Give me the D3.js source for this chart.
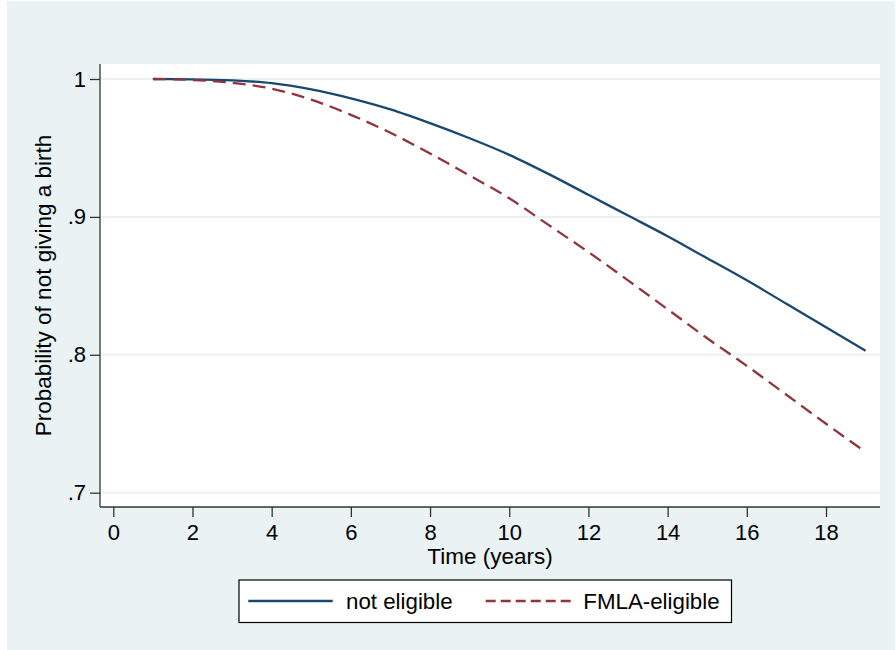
<!DOCTYPE html>
<html>
<head>
<meta charset="utf-8">
<script src="https://cdn.jsdelivr.net/npm/d3@7"></script>
<style>
  html, body { margin: 0; padding: 0; background: #ffffff; }
  svg { display: block; font-family: Arial, "Liberation Sans", Helvetica, sans-serif; }
</style>
</head>
<body>
<svg id="chart" width="896" height="650"></svg>
<script>
// ---- data ----
const years = [1, 2, 3, 4, 5, 6, 7, 8, 9, 10, 11, 12, 13, 14, 15, 16, 17, 18, 19];
const notEligible = [1.000, 0.9998, 0.9990, 0.9970, 0.9925, 0.9860, 0.978, 0.968, 0.957, 0.945,
                     0.931, 0.916, 0.901, 0.886, 0.870, 0.854, 0.837, 0.820, 0.803];
const fmlaEligible = [1.000, 0.9993, 0.9972, 0.9930, 0.985, 0.974, 0.961, 0.946, 0.930, 0.9135,
                      0.894, 0.8745, 0.854, 0.833, 0.812, 0.792, 0.771, 0.750, 0.7295];
const xTicks = [0, 2, 4, 6, 8, 10, 12, 14, 16, 18];
const yTicks = [0.7, 0.8, 0.9, 1];
const yTickLabels = [".7", ".8", ".9", "1"];
const seriesNames = ["not eligible", "FMLA-eligible"];
const xTitle = "Time (years)";
const yTitle = "Probability of not giving a birth";

// ---- layout ----
const svg = d3.select("#chart");
const plotL = 100, plotR = 880, plotT = 64, plotB = 507;
const blue = "#1a476f", red = "#90353b", bg = "#eaf2f3";

svg.append("rect").attr("x", 7).attr("y", 1).attr("width", 888).attr("height", 649).attr("fill", bg);
svg.append("rect").attr("x", plotL).attr("y", plotT).attr("width", plotR - plotL).attr("height", plotB - plotT).attr("fill", "#fff");

const x = d3.scaleLinear().domain([0, 18]).range([113.3, 826]);
const y = d3.scaleLinear().domain([0.7, 1]).range([492.7, 79]);

// gridlines
svg.append("g").selectAll("line").data(yTicks).join("line")
  .attr("x1", plotL).attr("x2", plotR)
  .attr("y1", d => y(d)).attr("y2", d => y(d))
  .attr("stroke", bg).attr("stroke-width", 2);

// lines
const line = d3.line().x(d => x(d[0])).y(d => y(d[1])).curve(d3.curveMonotoneX);
svg.append("path").datum(years.map((t, i) => [t, notEligible[i]]))
  .attr("d", line).attr("fill", "none").attr("stroke", blue).attr("stroke-width", 2.3);
svg.append("path").datum(years.map((t, i) => [t, fmlaEligible[i]]))
  .attr("d", line).attr("fill", "none").attr("stroke", red).attr("stroke-width", 2.3)
  .attr("stroke-dasharray", "13,7");

// y axis
const yAxis = svg.append("g").attr("transform", `translate(${plotL},0)`)
  .call(d3.axisLeft(y).tickValues(yTicks).tickSize(10).tickPadding(4)
    .tickFormat((d, i) => yTickLabels[i]));
yAxis.select(".domain").attr("d", `M0,${plotT}V${plotB}`).attr("stroke", "#333").attr("stroke-width", 1.3);
yAxis.selectAll(".tick line").attr("stroke", "#333").attr("stroke-width", 1.3);
yAxis.selectAll(".tick text").attr("font-size", 22).attr("fill", "#000")
  .attr("font-family", "Arial, 'Liberation Sans', sans-serif");

// x axis
const xAxis = svg.append("g").attr("transform", `translate(0,${plotB})`)
  .call(d3.axisBottom(x).tickValues(xTicks).tickSize(10).tickPadding(7)
    .tickFormat(d3.format("d")));
xAxis.select(".domain").attr("d", `M${plotL},0H${plotR}`).attr("stroke", "#333").attr("stroke-width", 1.3);
xAxis.selectAll(".tick line").attr("stroke", "#333").attr("stroke-width", 1.3);
xAxis.selectAll(".tick text").attr("font-size", 22).attr("fill", "#000")
  .attr("font-family", "Arial, 'Liberation Sans', sans-serif");

// axis titles
svg.append("text").attr("x", (plotL + plotR) / 2).attr("y", 563.5)
  .attr("text-anchor", "middle").attr("font-size", 22.5).attr("fill", "#000").text(xTitle);
svg.append("text").attr("transform", `translate(51,${(plotT + plotB) / 2}) rotate(-90)`)
  .attr("text-anchor", "middle").attr("font-size", 22.5).attr("fill", "#000").text(yTitle);

// legend
const lg = svg.append("g");
lg.append("rect").attr("x", 239).attr("y", 580).attr("width", 492.5).attr("height", 42.5)
  .attr("fill", "#fff").attr("stroke", "#000").attr("stroke-width", 1.2);
lg.append("line").attr("x1", 248.3).attr("x2", 332.7).attr("y1", 601).attr("y2", 601)
  .attr("stroke", blue).attr("stroke-width", 2.3);
lg.append("text").attr("x", 346).attr("y", 608.5).attr("font-size", 22.3).attr("fill", "#000").text(seriesNames[0]);
lg.append("line").attr("x1", 485.7).attr("x2", 570.7).attr("y1", 601).attr("y2", 601)
  .attr("stroke", red).attr("stroke-width", 2.3).attr("stroke-dasharray", "10,5");
lg.append("text").attr("x", 583.3).attr("y", 608.5).attr("font-size", 22.3).attr("fill", "#000").text(seriesNames[1]);
</script>
</body>
</html>
